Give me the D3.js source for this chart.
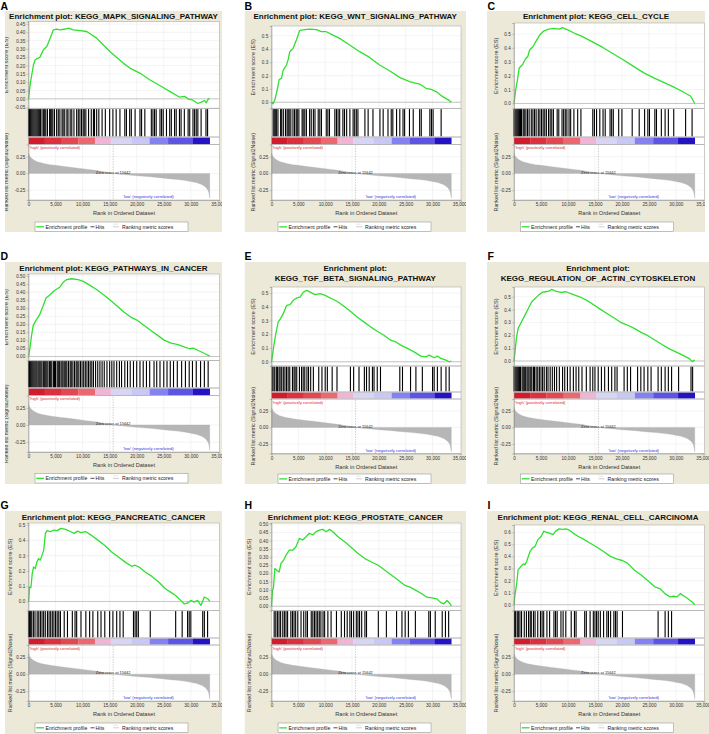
<!DOCTYPE html>
<html><head><meta charset="utf-8">
<script src="https://cdn.jsdelivr.net/npm/d3@7"></script>
<style>
body{margin:0;background:#fff}
svg{display:block}
text{font-family:"Liberation Sans",Arial,Helvetica,sans-serif}
</style>
</head><body>
<svg id="c" width="709" height="734"></svg>
<script>
// ---------------- DATA ----------------
const letters = ["A","B","C","D","E","F","G","H","I"];
const titles = [
  ["Enrichment plot: KEGG_MAPK_SIGNALING_PATHWAY"],
  ["Enrichment plot: KEGG_WNT_SIGNALING_PATHWAY"],
  ["Enrichment plot: KEGG_CELL_CYCLE"],
  ["Enrichment plot: KEGG_PATHWAYS_IN_CANCER"],
  ["Enrichment plot:","KEGG_TGF_BETA_SIGNALING_PATHWAY"],
  ["Enrichment plot:","KEGG_REGULATION_OF_ACTIN_CYTOSKELETON"],
  ["Enrichment plot: KEGG_PANCREATIC_CANCER"],
  ["Enrichment plot: KEGG_PROSTATE_CANCER"],
  ["Enrichment plot: KEGG_RENAL_CELL_CARCINOMA"]
];
const rankTicks = [0,5000,10000,15000,20000,25000,30000,35000];
const metricTicks = [-0.25,0,0.25];
const esTicksA = [-0.05,0,0.05,0.1,0.15,0.2,0.25,0.3,0.35,0.4,0.45];
const esTicksB = [0,0.1,0.2,0.3,0.4,0.5];
const esTicksC = [0,0.1,0.2,0.3,0.4,0.5];
const esTicksD = [0,0.05,0.1,0.15,0.2,0.25,0.3,0.35,0.4,0.45,0.5];
const esTicksE = [0,0.1,0.2,0.3,0.4,0.5];
const esTicksF = [0,0.1,0.2,0.3,0.4,0.5];
const esTicksG = [0,0.1,0.2,0.3,0.4,0.5];
const esTicksH = [0,0.05,0.1,0.15,0.2,0.25,0.3,0.35,0.4,0.45,0.5];
const esTicksI = [0,0.1,0.2,0.3,0.4,0.5,0.6];
const esDecimals = [2,1,1,2,1,1,1,2,1];
const esDomains = [[-0.058,0.464],[-0.047,0.573],[-0.036,0.579],[-0.025,0.5125],[-0.031,0.544],[-0.039,0.576],[-0.059,0.513],[-0.026,0.508],[-0.048,0.66]];

// running enrichment score: [rank, ES]
const esA = [[0,0],[300,0.085],[600,0.145],[920,0.205],[1230,0.235],[1500,0.24],[1840,0.245],[2100,0.25],[2460,0.275],[2760,0.295],[3380,0.315],[4000,0.365],[4600,0.415],[5200,0.42],[5830,0.415],[6750,0.42],[7370,0.425],[8290,0.415],[9520,0.41],[10750,0.405],[11660,0.385],[12590,0.365],[13800,0.325],[15040,0.285],[16270,0.25],[17500,0.215],[18730,0.185],[20570,0.155],[22400,0.115],[24250,0.08],[26100,0.045],[27940,0.01],[28860,0.015],[29470,0.0],[30390,-0.008],[31310,-0.028],[31930,-0.02],[32540,-0.01],[32850,-0.024],[33160,-0.004],[33460,0.004]];
const esB = [[0,0],[310,-0.012],[620,0.018],[1050,0.09],[1430,0.17],[1860,0.18],[2170,0.24],[2790,0.28],[3100,0.32],[3400,0.38],[4030,0.405],[4650,0.47],[5270,0.54],[6200,0.545],[7120,0.55],[8360,0.545],[9290,0.53],[10220,0.53],[11460,0.505],[12700,0.48],[14560,0.43],[16420,0.38],[18280,0.337],[20130,0.28],[22000,0.237],[23850,0.187],[25700,0.155],[27570,0.137],[28800,0.105],[29740,0.097],[30670,0.08],[31900,0.042],[33140,0.012],[33500,0]];
const esC = [[0,0],[320,0.1],[640,0.17],[960,0.255],[1600,0.28],[2120,0.32],[2570,0.34],[2890,0.385],[3530,0.41],[4040,0.445],[4810,0.495],[5460,0.52],[6420,0.535],[7380,0.54],[8350,0.535],[8990,0.545],[9950,0.53],[11240,0.505],[12520,0.485],[14450,0.445],[16370,0.405],[18300,0.36],[20220,0.315],[22150,0.267],[24070,0.22],[26000,0.183],[27930,0.148],[29530,0.12],[31130,0.088],[32740,0.052],[33200,0.02],[33500,0.0]];
const esD = [[0,0],[250,0.048],[560,0.13],[875,0.193],[1375,0.224],[2000,0.255],[2625,0.307],[3250,0.363],[3875,0.38],[4810,0.41],[5750,0.43],[6375,0.459],[7000,0.477],[7940,0.483],[9190,0.477],[10125,0.467],[11375,0.442],[12625,0.415],[13875,0.384],[15125,0.349],[16375,0.313],[17625,0.276],[18875,0.245],[20125,0.224],[21375,0.193],[22625,0.162],[23875,0.131],[25125,0.1],[26375,0.083],[27625,0.073],[28875,0.058],[29810,0.048],[30440,0.052],[31375,0.037],[32625,0.017],[33500,0.002]];
const esE = [[0,0],[190,0.048],[440,0.12],[810,0.205],[1250,0.29],[1690,0.314],[2190,0.35],[2810,0.41],[3440,0.415],[4060,0.447],[4690,0.464],[5310,0.471],[5940,0.507],[6560,0.519],[7190,0.507],[8125,0.488],[9060,0.495],[10000,0.483],[10940,0.464],[12190,0.44],[13440,0.406],[14690,0.367],[15940,0.326],[17190,0.29],[18440,0.254],[19690,0.222],[20940,0.193],[22190,0.157],[23125,0.145],[24060,0.121],[25310,0.097],[26560,0.072],[27810,0.041],[28750,0.036],[29375,0.048],[30310,0.029],[30940,0.041],[31560,0.024],[32500,0.012],[33125,0],[33500,0.005]];
const esF = [[0,0],[190,0.073],[440,0.176],[760,0.254],[1390,0.306],[2030,0.357],[2660,0.409],[3290,0.461],[3920,0.487],[4560,0.513],[5190,0.534],[5820,0.539],[6460,0.544],[6960,0.557],[7720,0.544],[8670,0.534],[9620,0.539],[10890,0.518],[12150,0.5],[13420,0.474],[14690,0.44],[15950,0.404],[17220,0.37],[18480,0.337],[19750,0.301],[21020,0.28],[22280,0.254],[23550,0.223],[24810,0.197],[26080,0.163],[27350,0.13],[28610,0.098],[29880,0.073],[31140,0.047],[32410,0.021],[33040,-0.005],[33500,0.008]];
const esG = [[0,0],[190,0.094],[440,0.09],[690,0.182],[940,0.226],[1250,0.215],[1560,0.259],[1875,0.28],[2190,0.27],[2500,0.303],[2810,0.335],[3125,0.445],[3440,0.463],[4060,0.456],[4690,0.467],[5310,0.463],[5940,0.478],[6875,0.471],[7810,0.456],[8440,0.445],[9060,0.46],[9690,0.45],[10625,0.456],[11560,0.434],[12810,0.401],[14060,0.368],[15310,0.325],[16560,0.292],[17810,0.259],[19060,0.23],[19690,0.237],[20625,0.221],[21560,0.193],[22810,0.164],[24060,0.127],[25310,0.083],[26250,0.061],[27190,0.039],[28125,0.007],[28750,-0.015],[29375,-0.011],[30000,0.007],[30625,-0.004],[31250,0.007],[31875,-0.026],[32500,0.029],[33125,0.018],[33500,0.002]];
const esH = [[0,0],[190,0.096],[375,0.117],[625,0.23],[1000,0.219],[1440,0.209],[1750,0.26],[2250,0.281],[2690,0.311],[3310,0.342],[3940,0.342],[4560,0.363],[5190,0.414],[5810,0.404],[6440,0.424],[7060,0.445],[7690,0.435],[8310,0.455],[8940,0.465],[9560,0.469],[10190,0.455],[10810,0.469],[11440,0.455],[12380,0.424],[13630,0.393],[14880,0.359],[16130,0.322],[17380,0.291],[18630,0.27],[19880,0.25],[21130,0.219],[22380,0.189],[23630,0.158],[24880,0.127],[25810,0.117],[26750,0.1],[28000,0.076],[28940,0.055],[29880,0.051],[30810,0.045],[31440,0.025],[32060,0.014],[32690,0.035],[33310,0.014],[33500,0]];
const esI = [[0,0],[130,0.064],[320,0.12],[510,0.176],[760,0.288],[1270,0.316],[1710,0.338],[2030,0.33],[2340,0.358],[2980,0.441],[3420,0.469],[3920,0.483],[4430,0.539],[5060,0.567],[5510,0.609],[5950,0.6],[6460,0.595],[7220,0.581],[7720,0.609],[8360,0.628],[8990,0.623],[9620,0.628],[10250,0.617],[10890,0.595],[11840,0.567],[12790,0.545],[14050,0.511],[15320,0.478],[16590,0.441],[17850,0.4],[19120,0.377],[20070,0.366],[21020,0.344],[22280,0.288],[23550,0.246],[24810,0.198],[26080,0.148],[27030,0.134],[27970,0.092],[28920,0.064],[29550,0.07],[30190,0.064],[30820,0.092],[31770,0.064],[33040,0.022],[33500,0]];

// hit positions, in hundreds of ranks
const HIT_UNIT = 100;
const hitsA = [0,2,4,6,8,10,12,14,16,18,20,22,25,28,30,32,35,39,41,43,45,48,52,55,58,62,64,67,71,73,77,80,84,89,92,95,98,101,103,106,111,116,120,122,126,130,136,142,150,156,162,169,178,181,187,190,197,206,209,215,227,230,233,236,243,246,249,255,261,264,270,273,279,282,288,295,298,304,307,310,313,319,328,331];
const hitsB = [3,5,7,9,12,17,19,22,26,29,31,33,36,40,43,46,48,51,57,59,62,65,71,74,78,81,87,90,93,102,105,108,118,121,124,127,133,136,140,146,152,155,158,161,174,180,189,202,208,217,223,226,233,239,245,248,257,264,276,279,295,298,301,316];
const hitsC = [0,2,4,6,8,10,12,14,17,19,22,25,28,32,35,38,41,45,48,51,54,57,60,64,67,70,73,80,83,89,92,95,98,102,105,111,118,124,146,149,153,159,165,169,178,181,184,194,200,219,232,242,248,251,261,264,273,280,286,296,318,330];
const hitsD = [0,2,4,6,8,10,12,14,16,19,21,23,25,28,30,32,34,36,39,41,43,46,48,50,53,55,57,60,62,64,67,69,71,74,77,79,82,85,88,90,93,96,99,102,105,108,111,114,117,120,124,128,132,136,140,145,150,154,158,163,168,172,178,183,188,194,200,206,212,218,224,232,237,243,250,256,262,268,275,283,290,297,303,310,318,325,332];
const hitsE = [1,3,6,9,11,14,16,19,22,25,28,31,34,39,42,44,47,52,56,59,62,66,69,73,78,88,94,100,104,113,122,147,153,163,173,177,182,188,191,197,203,239,244,259,269,281,300,303,309,316,325,331];
const hitsF = [0,2,4,6,8,10,12,15,17,19,21,24,26,28,31,33,36,38,41,44,47,50,53,56,60,63,67,71,75,79,84,90,94,99,104,110,115,120,126,134,141,146,150,156,162,168,175,181,187,191,204,210,216,229,235,241,248,254,267,273,280,286,292,305,328,331];
const hitsG = [0,2,4,6,9,12,16,19,22,25,28,31,35,38,41,44,47,50,53,56,59,66,72,81,86,89,97,106,113,119,128,134,141,150,156,163,169,175,194,197,200,203,225,272,284,294,297,300,322,325,331];
const hitsH = [5,8,11,14,17,21,24,27,30,36,39,42,45,49,55,60,64,67,74,77,80,83,86,89,92,96,99,105,111,121,130,136,141,146,149,153,158,161,164,168,174,177,199,214,233,243,249,255,268,293,296,305,318,324,330];
const hitsI = [1,3,6,8,11,14,19,23,27,30,32,36,39,44,49,52,55,61,66,74,77,80,87,91,96,106,112,115,131,134,141,147,150,153,156,160,166,172,175,179,185,188,191,201,267,280,286,292];

// ranked list metric (Signal2Noise), shared by all panels
const metricRanks  = [0,300,600,1000,2000,3000,5000,7000,10000,12000,14000,15642,18000,20000,22500,25000,27500,30000,31500,32500,33000,33300,33500];
const metricValues = [0.30,0.25,0.225,0.20,0.165,0.145,0.12,0.10,0.07,0.05,0.025,0,-0.02,-0.035,-0.05,-0.07,-0.09,-0.12,-0.15,-0.19,-0.23,-0.28,-0.37];
const zeroCross = 15642;
const metricDomain = [-0.395,0.43];

// colour bar bands: [from, to] in hundreds of ranks
const bandFrom   = [0,30,60,92,123,152,190,224,258,304];
const bandTo     = [30,60,92,123,152,190,224,258,304,335];
const bandColors = ["#d01c2c","#da3040","#e24852","#ec6870","#f2b4d4","#d8d4f4","#c8c8f6","#8482f2","#5c54e4","#2412c4"];

const esData = [esA,esB,esC,esD,esE,esF,esG,esH,esI];
const hitData = [hitsA,hitsB,hitsC,hitsD,hitsE,hitsF,hitsG,hitsH,hitsI];
const esTicks = [esTicksA,esTicksB,esTicksC,esTicksD,esTicksE,esTicksF,esTicksG,esTicksH,esTicksI];

// ---------------- LAYOUT ----------------
const cols = [
  {bx0:5, bx1:222, px0:28.5, px1:219.5, lx:0},
  {bx0:244.5, bx1:466, px0:271.5, px1:461, lx:244},
  {bx0:487, bx1:709, px0:514, px1:704.5, lx:487}
];
const rows = [
  {by0:11, by1:232, tY:19, esB:108.5, hB:137, bB:144.5, mB:200, lgT:222, ltY:9.5},
  {by0:262, by1:484, tY:271, esB:366, hB:392, bB:399, mB:453.5, lgT:474, ltY:260},
  {by0:511, by1:734, tY:520, esB:610.5, hB:638, bB:645, mB:701, lgT:723, ltY:509}
];
const esTops = [21.7,26,23,274,287,287,523,523,525];
const rowOverride = {3:{esB:360.5, hB:388, bB:395.5, mB:452, lgT:473.5}};
const X_MAX = 35300;

const GREEN = "#2fe02f";
const BEIGE = "#ece9d9";
const FRAME = "#a0a0a0";

const svg = d3.select("#c");
const defs = svg.append("defs");

for (let i = 0; i < 9; i++) {
  const c = cols[i % 3], r0 = rows[Math.floor(i / 3)];
  const r = Object.assign({}, r0, rowOverride[i] || {});
  const bx1 = (i === 2) ? 705 : c.bx1;
  const esTop = esTops[i];

  // letter
  svg.append("text").attr("x", c.lx + 0.5).attr("y", r.ltY).attr("font-size", 10.5).attr("font-weight", "bold")
    .attr("fill", "#000").text(letters[i]);

  defs.append("clipPath").attr("id", "clip" + i).append("rect")
    .attr("x", c.bx0).attr("y", r.by0).attr("width", bx1 - c.bx0).attr("height", r.by1 - r.by0);
  const g = svg.append("g").attr("clip-path", `url(#clip${i})`);

  g.append("rect").attr("x", c.bx0).attr("y", r.by0).attr("width", bx1 - c.bx0).attr("height", r.by1 - r.by0)
    .attr("fill", BEIGE);

  // title
  const tcx = (c.bx0 + bx1) / 2;
  titles[i].forEach((t, k) => {
    g.append("text").attr("x", tcx).attr("y", r.tY + k * 10).attr("text-anchor", "middle")
      .attr("font-size", 8).attr("font-weight", "bold").attr("fill", "#111").text(t);
  });

  const x = d3.scaleLinear().domain([0, X_MAX]).range([c.px0, c.px1]);
  const yES = d3.scaleLinear().domain(esDomains[i]).range([r.esB, esTop]);
  const yM = d3.scaleLinear().domain(metricDomain).range([r.mB, r.bB]);
  const pw = c.px1 - c.px0;

  // plot backgrounds
  g.append("rect").attr("x", c.px0).attr("y", esTop).attr("width", pw).attr("height", r.mB - esTop).attr("fill", "#fff");

  // grid
  const grid = g.append("g").attr("stroke", "#e4e4e4").attr("stroke-width", 0.4);
  rankTicks.slice(1, -1).forEach(t => {
    grid.append("line").attr("x1", x(t)).attr("x2", x(t)).attr("y1", esTop).attr("y2", r.esB);
    grid.append("line").attr("x1", x(t)).attr("x2", x(t)).attr("y1", r.bB).attr("y2", r.mB);
  });
  esTicks[i].forEach(t => {
    grid.append("line").attr("x1", c.px0).attr("x2", c.px1).attr("y1", yES(t)).attr("y2", yES(t));
  });
  metricTicks.forEach(t => {
    grid.append("line").attr("x1", c.px0).attr("x2", c.px1).attr("y1", yM(t)).attr("y2", yM(t));
  });

  // ES zero line
  g.append("line").attr("x1", c.px0).attr("x2", c.px1).attr("y1", yES(0)).attr("y2", yES(0))
    .attr("stroke", "#a8a8a8").attr("stroke-width", 0.6);

  // ES curve
  g.append("path").datum(esData[i])
    .attr("d", d3.line().x(d => x(d[0])).y(d => yES(d[1])))
    .attr("fill", "none").attr("stroke", GREEN).attr("stroke-width", 1.3).attr("stroke-linejoin", "round");

  // hits
  g.append("g").selectAll("rect").data(hitData[i]).join("rect")
    .attr("x", d => x(d * HIT_UNIT) - 0.55).attr("width", 1.1)
    .attr("y", r.esB + 0.6).attr("height", r.hB - r.esB - 1.2).attr("fill", "#000");

  // colour bar
  bandColors.forEach((col, k) => {
    g.append("rect").attr("x", x(bandFrom[k] * HIT_UNIT)).attr("width", x(bandTo[k] * HIT_UNIT) - x(bandFrom[k] * HIT_UNIT) + 0.2)
      .attr("y", r.hB + 0.5).attr("height", r.bB - r.hB - 1).attr("fill", col);
  });

  // metric area
  const mData = metricRanks.map((rk, k) => [rk, metricValues[k]]);
  g.append("path").datum(mData)
    .attr("d", d3.area().x(d => x(d[0])).y0(yM(0)).y1(d => yM(d[1])).curve(d3.curveMonotoneX))
    .attr("fill", "#b6b6b6").attr("stroke", "#b0b0b0").attr("stroke-width", 0.3);

  // zero cross
  g.append("line").attr("x1", x(zeroCross)).attr("x2", x(zeroCross)).attr("y1", r.bB + 1).attr("y2", r.mB)
    .attr("stroke", "#9a9a9a").attr("stroke-width", 0.5).attr("stroke-dasharray", "1.4,1.2");
  g.append("text").attr("x", x(zeroCross)).attr("y", yM(0) + 0.3).attr("text-anchor", "middle")
    .attr("font-size", 3.9).attr("fill", "#222").text("Zero cross at " + zeroCross);

  g.append("text").attr("x", c.px0 + 1).attr("y", r.bB + 4.6).attr("font-size", 4.2).attr("fill", "#e0262e")
    .text("'high' (positively correlated)");
  g.append("text").attr("x", x(17500)).attr("y", r.mB - 1.6).attr("font-size", 4.2).attr("fill", "#3333dd")
    .text("'low' (negatively correlated)");

  // frames
  const fr = g.append("g").attr("fill", "none").attr("stroke", FRAME).attr("stroke-width", 0.5);
  fr.append("rect").attr("x", c.px0).attr("y", esTop).attr("width", pw).attr("height", r.esB - esTop);
  fr.append("rect").attr("x", c.px0).attr("y", r.esB).attr("width", pw).attr("height", r.hB - r.esB);
  fr.append("rect").attr("x", c.px0).attr("y", r.hB).attr("width", pw).attr("height", r.bB - r.hB);
  fr.append("rect").attr("x", c.px0).attr("y", r.bB).attr("width", pw).attr("height", r.mB - r.bB);

  // axes
  const fmt = dec => (d => d.toFixed(dec));
  const styleAxis = a => {
    a.selectAll("text").attr("font-size", 4.6).attr("fill", "#333").attr("font-family", "Liberation Sans, Arial, sans-serif");
    a.selectAll("line").attr("stroke", "#888").attr("stroke-width", 0.4);
    a.select(".domain").attr("stroke", "#888").attr("stroke-width", 0.5);
  };
  const ay = g.append("g").attr("transform", `translate(${c.px0},0)`)
    .call(d3.axisLeft(yES).tickValues(esTicks[i]).tickFormat(fmt(esDecimals[i])).tickSize(1.8).tickPadding(1.5));
  styleAxis(ay);
  const am = g.append("g").attr("transform", `translate(${c.px0},0)`)
    .call(d3.axisLeft(yM).tickValues(metricTicks).tickFormat(fmt(2)).tickSize(1.8).tickPadding(1.5));
  styleAxis(am);
  const ax = g.append("g").attr("transform", `translate(0,${r.mB})`)
    .call(d3.axisBottom(x).tickValues(rankTicks).tickFormat(d3.format(",")).tickSize(1.8).tickPadding(1.2));
  styleAxis(ax);

  // axis titles
  const labOff = esDecimals[i] === 2 ? 20.5 : 16.5;
  g.append("text").attr("transform", `translate(${c.px0 - labOff},${(esTop + r.esB) / 2}) rotate(-90)`)
    .attr("text-anchor", "middle").attr("font-size", 5.6).attr("fill", "#333").text("Enrichment score (ES)");
  g.append("text").attr("transform", `translate(${c.px0 - labOff},${(r.bB + r.mB) / 2}) rotate(-90)`)
    .attr("text-anchor", "middle").attr("font-size", 5.3).attr("fill", "#333").text("Ranked list metric (Signal2Noise)");
  g.append("text").attr("x", (c.px0 + c.px1) / 2).attr("y", r.mB + 15.3).attr("text-anchor", "middle")
    .attr("font-size", 5.6).attr("fill", "#333").text("Rank in Ordered Dataset");

  // legend
  const lg = g.append("g").attr("transform", `translate(${c.px0 + 6.5},${r.lgT})`);
  lg.append("rect").attr("width", 153).attr("height", 9.5).attr("fill", "#fff").attr("stroke", "#888").attr("stroke-width", 0.5);
  lg.append("line").attr("x1", 1.2).attr("x2", 9).attr("y1", 4.8).attr("y2", 4.8).attr("stroke", GREEN).attr("stroke-width", 1.3);
  lg.append("text").attr("x", 10.5).attr("y", 6.6).attr("font-size", 5.2).attr("fill", "#222").text("Enrichment profile");
  lg.append("line").attr("x1", 55.5).attr("x2", 59.5).attr("y1", 4.8).attr("y2", 4.8).attr("stroke", "#000").attr("stroke-width", 0.7);
  lg.append("text").attr("x", 60.5).attr("y", 6.6).attr("font-size", 5.2).attr("fill", "#222").text("Hits");
  lg.append("line").attr("x1", 78).attr("x2", 84).attr("y1", 4.8).attr("y2", 4.8).attr("stroke", "#c8c8c8").attr("stroke-width", 0.9);
  lg.append("line").attr("x1", 78).attr("x2", 83).attr("y1", 2.2).attr("y2", 2.2).attr("stroke", "#e0e0e0").attr("stroke-width", 0.8);
  lg.append("text").attr("x", 87).attr("y", 6.6).attr("font-size", 5.2).attr("fill", "#222").text("Ranking metric scores");
}
</script>
</body></html>
